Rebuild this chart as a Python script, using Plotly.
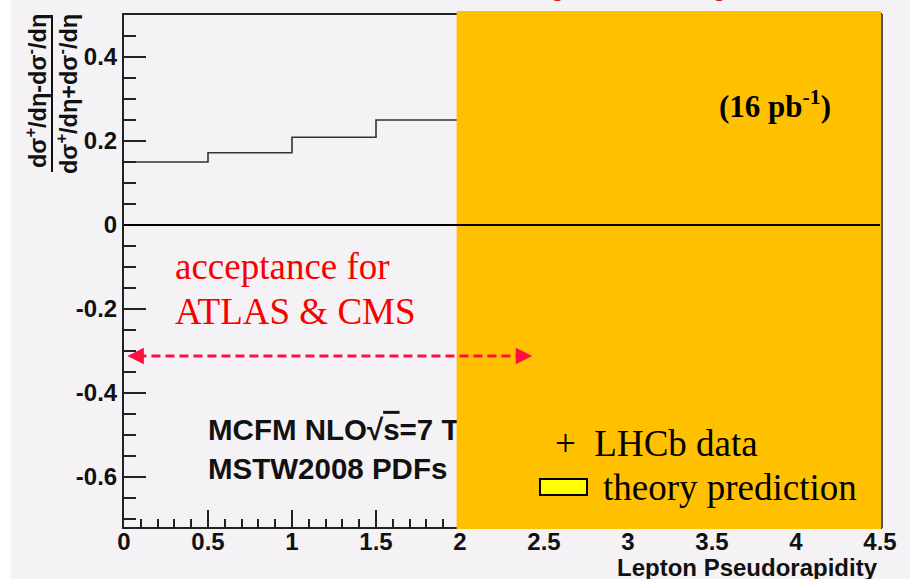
import plotly.graph_objects as go

# W lepton charge asymmetry vs. lepton pseudorapidity (MCFM NLO prediction)
eta_edges = [0.0, 0.5, 1.0, 1.5, 2.0]
asym_values = [0.15, 0.172, 0.209, 0.25]

x_tick_vals = [0, 0.5, 1, 1.5, 2, 2.5, 3, 3.5, 4, 4.5]
x_tick_text = ["0", "0.5", "1", "1.5", "2", "2.5", "3", "3.5", "4", "4.5"]
y_tick_vals = [-0.6, -0.4, -0.2, 0, 0.2, 0.4]
y_tick_text = ["-0.6", "-0.4", "-0.2", "0", "0.2", "0.4"]

# LHCb coverage band and ATLAS/CMS acceptance arrow
lhcb_eta_min = 1.98
acceptance_eta = [0.02, 2.43]
acceptance_level = -0.312

W, H = 910, 579
ML, MR, MT, MB = 124, 30, 15, 52
PW, PH = W - ML - MR, H - MT - MB


def px(x):
    return (x - ML) / PW


def py(y):
    return (H - MB - y) / PH


BG = "#F5F2F6"
ORANGE = "#FFC000"
RED = "#FF1040"
TEXT_RED = "#F80000"
SANS = "Liberation Sans"
SERIF = "Liberation Serif"

fig = go.Figure()

# step histogram of the predicted asymmetry
fig.add_trace(go.Scatter(
    x=eta_edges, y=asym_values + [asym_values[-1]],
    mode="lines", line=dict(shape="hv", color="#333333", width=1.6),
    hoverinfo="skip", showlegend=False))

# generator / PDF labels (partly hidden by the LHCb band)
fig.add_trace(go.Scatter(
    x=[0.5, 0.5], y=[-0.494, -0.586], mode="text",
    text=["<b>MCFM NLO\u221a<span style='text-decoration:overline'>s</span>=7 TeV</b>",
          "<b>MSTW2008 PDFs</b>"],
    textposition="middle right",
    textfont=dict(family=SANS, size=29.5, color="#111111"),
    hoverinfo="skip", showlegend=False, cliponaxis=True))

shapes = [
    # white strip on the left edge
    dict(type="rect", xref="paper", yref="paper", x0=px(0), x1=px(11), y0=py(579), y1=py(0),
         fillcolor="white", line=dict(width=0), layer="below"),
    # LHCb coverage band
    dict(type="rect", xref="paper", yref="paper", x0=px(124 + lhcb_eta_min * 168), x1=px(881),
         y0=py(529), y1=py(11), fillcolor=ORANGE, line=dict(width=0), layer="above"),
    # frame shadow on the right
    dict(type="line", xref="paper", yref="paper", x0=px(882), x1=px(882), y0=py(528), y1=py(14),
         line=dict(color="#555555", width=2), layer="above"),
    # zero line
    dict(type="line", xref="x", yref="y", x0=0, x1=4.5, y0=0, y1=0,
         line=dict(color="black", width=2), layer="above"),
    # acceptance arrow shaft
    dict(type="line", xref="x", yref="y", x0=acceptance_eta[0] + 0.06, x1=acceptance_eta[1] - 0.06,
         y0=acceptance_level, y1=acceptance_level,
         line=dict(color=RED, width=3, dash="9px,5px"), layer="above"),
    # fraction bar of the y title
    dict(type="line", xref="paper", yref="paper", x0=px(52), x1=px(52), y0=py(172), y1=py(15),
         line=dict(color="#111111", width=2)),
    # legend box for theory prediction
    dict(type="rect", xref="paper", yref="paper", x0=px(540), x1=px(587), y0=py(495), y1=py(479),
         fillcolor="#FFFF00", line=dict(color="black", width=2), layer="above"),
]

annotations = [
    # arrow heads
    dict(x=acceptance_eta[0], y=acceptance_level, ax=acceptance_eta[0] + 0.08, ay=acceptance_level,
         xref="x", yref="y", axref="x", ayref="y", text="", showarrow=True,
         arrowhead=2, arrowsize=1.1, arrowwidth=3, arrowcolor=RED),
    dict(x=acceptance_eta[1], y=acceptance_level, ax=acceptance_eta[1] - 0.08, ay=acceptance_level,
         xref="x", yref="y", axref="x", ayref="y", text="", showarrow=True,
         arrowhead=2, arrowsize=1.1, arrowwidth=3, arrowcolor=RED),
    # y-axis title as a fraction
    dict(x=px(36), y=py(91), xref="paper", yref="paper", xanchor="center", yanchor="middle",
         textangle=-90, showarrow=False,
         text="<b>d\u03c3<sup>+</sup>/d\u03b7-d\u03c3<sup>-</sup>/d\u03b7</b>",
         font=dict(family=SANS, size=23.5, color="#111111")),
    dict(x=px(67), y=py(94), xref="paper", yref="paper", xanchor="center", yanchor="middle",
         textangle=-90, showarrow=False,
         text="<b>d\u03c3<sup>+</sup>/d\u03b7+d\u03c3<sup>-</sup>/d\u03b7</b>",
         font=dict(family=SANS, size=23.5, color="#111111")),
    # x-axis title
    dict(x=px(880), y=py(567), xref="paper", yref="paper", xanchor="right", yanchor="middle",
         showarrow=False, text="<b>Lepton Pseudorapidity</b>",
         font=dict(family=SANS, size=24, color="#111111")),
    # luminosity
    dict(x=px(717), y=py(104), xref="paper", yref="paper", xanchor="left", yanchor="middle",
         showarrow=False, text="<b>(16 pb<sup>-1</sup>)</b>",
         font=dict(family=SERIF, size=31, color="black")),
    # acceptance note
    dict(x=px(173), y=py(266), xref="paper", yref="paper", xanchor="left", yanchor="middle",
         showarrow=False, text="acceptance for",
         font=dict(family=SERIF, size=37, color=TEXT_RED)),
    dict(x=px(173), y=py(311), xref="paper", yref="paper", xanchor="left", yanchor="middle",
         showarrow=False, text="ATLAS &amp; CMS",
         font=dict(family=SERIF, size=37, color=TEXT_RED)),
    # legend
    dict(x=px(553), y=py(443), xref="paper", yref="paper", xanchor="left", yanchor="middle",
         showarrow=False, text="+\u00a0\u00a0LHCb data",
         font=dict(family=SERIF, size=37, color="black")),
    dict(x=px(601), y=py(487), xref="paper", yref="paper", xanchor="left", yanchor="middle",
         showarrow=False, text="theory prediction",
         font=dict(family=SERIF, size=37, color="black")),
    # slide title (mostly above the visible area)
    dict(x=px(618), y=py(3), xref="paper", yref="paper", xanchor="center", yanchor="bottom",
         showarrow=False, text="Asymmetry",
         font=dict(family=SERIF, size=52, color="#D00000")),
]

axis_font = dict(family=SANS, size=24, color="#111111", weight="bold")

fig.update_layout(
    width=W, height=H,
    margin=dict(l=ML, r=MR, t=MT, b=MB, autoexpand=False),
    paper_bgcolor=BG, plot_bgcolor=BG,
    shapes=shapes, annotations=annotations,
    xaxis=dict(range=[0, 4.5], tickvals=x_tick_vals, ticktext=x_tick_text,
               ticks="inside", ticklen=17, tickwidth=1.5, tickcolor="#222222",
               minor=dict(dtick=0.1, tick0=0, ticks="inside", ticklen=8, tickwidth=1.5,
                          tickcolor="#222222", showgrid=False),
               showline=True, linecolor="#222222", linewidth=2, mirror=True,
               showgrid=False, zeroline=False, tickfont=axis_font, ticklabelstandoff=-8),
    yaxis=dict(range=[-0.719, 0.5], tickvals=y_tick_vals, ticktext=y_tick_text,
               ticks="inside", ticklen=22, tickwidth=1.5, tickcolor="#222222",
               minor=dict(dtick=0.05, tick0=0, ticks="inside", ticklen=12, tickwidth=1.5,
                          tickcolor="#222222", showgrid=False),
               showline=True, linecolor="#222222", linewidth=2, mirror=True,
               showgrid=False, zeroline=False, tickfont=axis_font),
)

fig.write_html("out.html")
